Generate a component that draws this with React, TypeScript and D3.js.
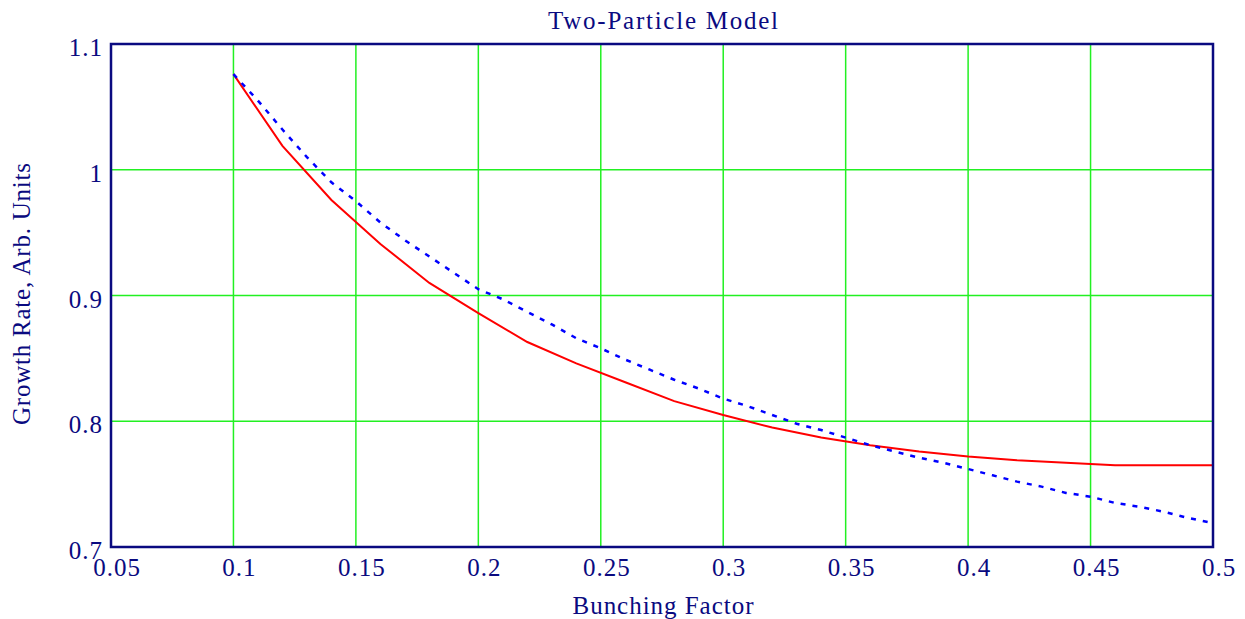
import React from "react";
import { scaleLinear, line } from "d3";

// solid red curve, sampled every 0.02
const redX = [0.1, 0.12, 0.14, 0.16, 0.18, 0.2, 0.22, 0.24, 0.26, 0.28, 0.3, 0.32, 0.34, 0.36, 0.38, 0.4, 0.42, 0.44, 0.46, 0.48, 0.5];
const redY = [1.076, 1.019, 0.976, 0.941, 0.91, 0.886, 0.863, 0.846, 0.831, 0.816, 0.805, 0.795, 0.787, 0.781, 0.776, 0.772, 0.769, 0.767, 0.765, 0.765, 0.765];

// dotted blue curve, sampled every 0.01
const blueX = [0.1, 0.11, 0.12, 0.13, 0.14, 0.15, 0.16, 0.17, 0.18, 0.19, 0.2, 0.21, 0.22, 0.23, 0.24, 0.25, 0.26, 0.27, 0.28, 0.29, 0.3, 0.31, 0.32, 0.33, 0.34, 0.35, 0.36, 0.37, 0.38, 0.39, 0.4, 0.41, 0.42, 0.43, 0.44, 0.45, 0.46, 0.47, 0.48, 0.49, 0.5];
const blueY = [1.076, 1.055, 1.032, 1.01, 0.99, 0.975, 0.958, 0.944, 0.931, 0.918, 0.905, 0.897, 0.887, 0.877, 0.866, 0.858, 0.849, 0.841, 0.833, 0.826, 0.818, 0.812, 0.805, 0.798, 0.793, 0.787, 0.781, 0.776, 0.771, 0.767, 0.762, 0.757, 0.752, 0.748, 0.743, 0.74, 0.735, 0.732, 0.728, 0.723, 0.719];

const xTicks = [0.05, 0.1, 0.15, 0.2, 0.25, 0.3, 0.35, 0.4, 0.45, 0.5];
const xTickLabels = ["0.05", "0.1", "0.15", "0.2", "0.25", "0.3", "0.35", "0.4", "0.45", "0.5"];
const yTicks = [0.7, 0.8, 0.9, 1, 1.1];
const yTickLabels = ["0.7", "0.8", "0.9", "1", "1.1"];

const W = 1245;
const H = 619;
const left = 111, right = 1213, top = 44, bottom = 547;
const navy = "#0a0a80";
const font = "Liberation Serif";

export default function App() {
  const x = scaleLinear().domain([0.05, 0.5]).range([left, right]);
  const y = scaleLinear().domain([0.7, 1.1]).range([bottom, top]);

  const redPath = line<number>()
    .x((d) => x(d))
    .y((_, i) => y(redY[i]))(redX);
  const bluePath = line<number>()
    .x((d) => x(d))
    .y((_, i) => y(blueY[i]))(blueX);

  return (
    <>
      <style>{`body{margin:0}`}</style>
      <svg width={W} height={H} style={{ display: "block", background: "#fff", fontFamily: font }}>
        {/* grid */}
        <g stroke="#22f022" strokeWidth={1.5}>
          {xTicks.slice(1, -1).map((t) => (
            <line key={"gx" + t} x1={x(t)} x2={x(t)} y1={top} y2={bottom} />
          ))}
          {yTicks.slice(1, -1).map((t) => (
            <line key={"gy" + t} x1={left} x2={right} y1={y(t)} y2={y(t)} />
          ))}
        </g>

        <path d={redPath ?? ""} fill="none" stroke="#ff0000" strokeWidth={2} />
        <path d={bluePath ?? ""} fill="none" stroke="#0000ff" strokeWidth={2.5} strokeDasharray="5,7" />

        {/* frame */}
        <rect x={left} y={top} width={right - left} height={bottom - top} fill="none" stroke={navy} strokeWidth={2.5} />

        {/* tick labels */}
        <g fill={navy} fontSize={25} letterSpacing={1}>
          {yTicks.map((t, i) => (
            <text key={"ty" + t} x={left - 8} y={y(t) + 12} textAnchor="end">
              {yTickLabels[i]}
            </text>
          ))}
          {xTicks.map((t, i) => (
            <text key={"tx" + t} x={x(t) + 6} y={bottom + 29} textAnchor="middle">
              {xTickLabels[i]}
            </text>
          ))}
        </g>

        <text x={663} y={29} fill={navy} fontSize={25} textAnchor="middle" textLength={230}>
          Two-Particle Model
        </text>
        <text x={663} y={614} fill={navy} fontSize={25} textAnchor="middle" textLength={181}>
          Bunching Factor
        </text>
        <text
          transform={`translate(30, 294) rotate(-90)`}
          fill={navy}
          fontSize={25}
          textAnchor="middle"
          textLength={262}
        >
          Growth Rate, Arb. Units
        </text>
      </svg>
    </>
  );
}
